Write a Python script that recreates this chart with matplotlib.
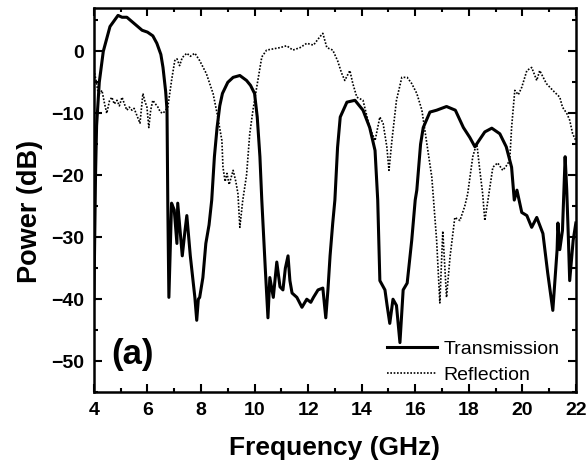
import matplotlib.pyplot as plt
from matplotlib.ticker import MultipleLocator

# values
trans_f = [4.0, 4.03, 4.06, 4.1, 4.2, 4.35, 4.6, 4.9, 5.05, 5.23, 5.5, 5.8, 6.0, 6.2,
           6.35, 6.5, 6.58, 6.68, 6.73, 6.76, 6.8, 6.9, 7.0, 7.1, 7.13, 7.2, 7.3, 7.4,
           7.47, 7.6, 7.7, 7.77, 7.84, 7.9, 7.95, 8.07, 8.18, 8.3, 8.4, 8.5, 8.6, 8.7, 8.8, 9.0,
           9.2, 9.45, 9.7, 9.85, 10.0, 10.1, 10.2, 10.27, 10.4, 10.5, 10.57, 10.7, 10.83,
           10.95, 11.06, 11.15, 11.25, 11.32, 11.4, 11.58, 11.77, 11.95, 12.1, 12.2,
           12.37, 12.55, 12.66, 12.74, 12.82, 12.92, 13.0, 13.1, 13.2, 13.45, 13.75, 14.05,
           14.3, 14.5, 14.6, 14.68, 14.87, 14.95, 15.05, 15.17, 15.3, 15.43, 15.55,
           15.7, 15.87, 16.0, 16.06, 16.2, 16.3, 16.55, 16.8, 17.17, 17.5, 17.8, 18.04, 18.23,
           18.35, 18.6, 18.86, 19.16, 19.4, 19.6, 19.7, 19.8, 19.98, 20.17, 20.35, 20.54,
           20.77, 20.95, 21.1, 21.14, 21.3, 21.33, 21.4, 21.5, 21.6, 21.66, 21.72, 21.77,
           21.9, 22.0]
trans_db = [-40, -30, -20, -12, -5, 0, 4, 5.8, 5.5, 5.5, 4.5, 3.4, 3.1, 2.5,
            1.3, -0.5, -2.6, -6.5, -9.5, -25, -39.7, -24.5, -25.6, -31, -24.5, -28, -33, -29,
            -26.5, -33, -37, -39.7, -43.4, -40, -39.7, -36.5, -31, -28, -24, -17, -12.3, -8.8, -6.8, -5,
            -4.2, -3.9, -4.7, -5.5, -6.8, -10.6, -17, -24, -35, -43, -36.5, -39.7, -34,
            -38, -38.5, -35, -33, -37, -39, -39.7, -41.3, -40, -40.5, -39.7,
            -38.5, -38.2, -43, -38.5, -33, -27.7, -24, -15.5, -10.6, -8.2, -7.9, -9.5,
            -12.3, -16, -24, -37, -38.5, -41, -43.9, -40, -41, -47, -38.5,
            -37.4, -30.5, -24, -22.4, -15, -12.3, -9.8, -9.5, -8.9, -9.5, -12.3, -13.9, -15.4,
            -14.6, -13, -12.4, -13.3, -15.4, -18.7, -24, -22.4, -26, -26.5, -28.4, -26.8,
            -29.4, -35.8, -40.6, -41.8, -32, -27.7, -32, -28.9, -17, -22.4, -30, -37,
            -30.5, -27.7]

refl_f = [4.0, 4.08, 4.15, 4.22, 4.3, 4.4, 4.48, 4.58, 4.67, 4.76, 4.86, 4.95, 5.05,
          5.14, 5.23, 5.32, 5.42, 5.5, 5.6, 5.72, 5.83, 5.9, 5.98, 6.05, 6.12, 6.2, 6.3,
          6.39, 6.48, 6.58, 6.68, 6.76, 6.9, 7.02, 7.1, 7.2, 7.3, 7.47, 7.6, 7.77, 7.95,
          8.2, 8.45, 8.6, 8.78, 8.82, 8.9, 8.97, 9.05, 9.2, 9.3, 9.38, 9.45, 9.56, 9.7,
          9.82, 9.94, 10.08, 10.27, 10.45, 10.7, 10.95, 11.2, 11.43, 11.7, 11.95, 12.2,
          12.43, 12.55, 12.7, 12.92, 13.1, 13.25, 13.37, 13.56, 13.67, 13.82, 14.05,
          14.3, 14.5, 14.68, 14.8, 14.94, 15.02, 15.13, 15.3, 15.5, 15.7, 15.87, 16.06,
          16.25, 16.43, 16.62, 16.8, 16.92, 17.03, 17.17, 17.3, 17.48, 17.67, 17.85,
          17.96, 18.15, 18.3, 18.4, 18.52, 18.6, 18.7, 18.9, 19.08, 19.27, 19.4, 19.53,
          19.6, 19.72, 19.85, 19.98, 20.17, 20.35, 20.54, 20.65, 20.9, 21.14, 21.4,
          21.5, 21.66, 21.77, 21.88, 22.0]
refl_db = [-3, -4.7, -6.5, -6.8, -6.3, -8.5, -10, -8, -7.4, -8.5, -7.9, -8.8, -7.4,
           -8.5, -9.5, -9, -9.5, -9.2, -10.3, -11.6, -6.8, -8, -9, -12.3, -9.5, -7.9, -8.5,
           -9, -9.8, -10, -9.5, -9, -4.7, -1.5, -1.2, -2.3, -1, -0.3, -0.8, -0.3, -1.5,
           -3.6, -6.8, -10, -14.4, -18.7, -21, -19.7, -21.5, -19.2, -21, -23, -28.4, -24, -20,
           -13.3, -9.5, -5.8, -0.9, 0.2, 0.4, 0.6, 0.9, 0.2, 0.6, 1.3, 1.0,
           2.3, 2.9, 0.6, 0.2, -1.5, -3.5, -4.7, -3.1, -5.2, -7.4, -7.9,
           -12.3, -14.4, -10.6, -11.6, -15.4, -19.2, -14.4, -7.9, -4.2, -4.2, -5.2, -6.8,
           -9.5, -14.8, -20.3, -30.5, -40.6, -29, -39.7, -33.2, -26.8, -27.3, -25,
           -23, -17, -14.8, -18.7, -23, -27.3, -24.5, -18.7, -18, -19.2, -18.5, -17.6,
           -12.3, -6.3, -7, -5.8, -3.1, -2.6, -4.7, -3.1, -5.2, -6.3, -7.4,
           -9, -10, -11.1, -13.3, -14.4]

bold = {'fontweight': 'bold', 'family': 'Liberation Sans'}

fig = plt.figure(figsize=(5.87, 4.68), dpi=100)
ax = fig.add_axes([0.160, 0.162, 0.821, 0.821])

ax.plot(trans_f, trans_db, color='black', lw=2.2, label='Transmission')
ax.plot(refl_f, refl_db, color='black', lw=1.2, ls=(0, (1, 1)), label='Reflection')

ax.set_xlim(4, 22)
ax.set_ylim(-55, 7)
ax.xaxis.set_major_locator(MultipleLocator(2))
ax.xaxis.set_minor_locator(MultipleLocator(1))
ax.yaxis.set_major_locator(MultipleLocator(10))
ax.yaxis.set_minor_locator(MultipleLocator(5))
ax.tick_params(which='both', direction='in', top=True, right=True, width=1.5)
ax.tick_params(which='major', length=6, labelsize=14, pad=7)
ax.tick_params(which='minor', length=3)
for lab in ax.get_xticklabels() + ax.get_yticklabels():
    lab.set_fontweight('bold')
    lab.set_family('Liberation Sans')
for sp in ax.spines.values():
    sp.set_linewidth(1.8)

ax.set_xlabel('Frequency (GHz)', fontsize=19, labelpad=12, **bold)
ax.set_ylabel('Power (dB)', fontsize=19.5, **bold)
ax.yaxis.set_label_coords(-0.105, 0.471)

ax.text(4.65, -50.5, '(a)', fontsize=25, **bold)

ax.legend(loc='upper left', bbox_to_anchor=(0.608, 0.135), frameon=False,
          handlelength=2.6, borderaxespad=0, borderpad=0, labelspacing=0.45,
          handletextpad=0.3, prop={'family': 'Liberation Sans', 'size': 14})

fig.savefig('out.png', dpi=100)
